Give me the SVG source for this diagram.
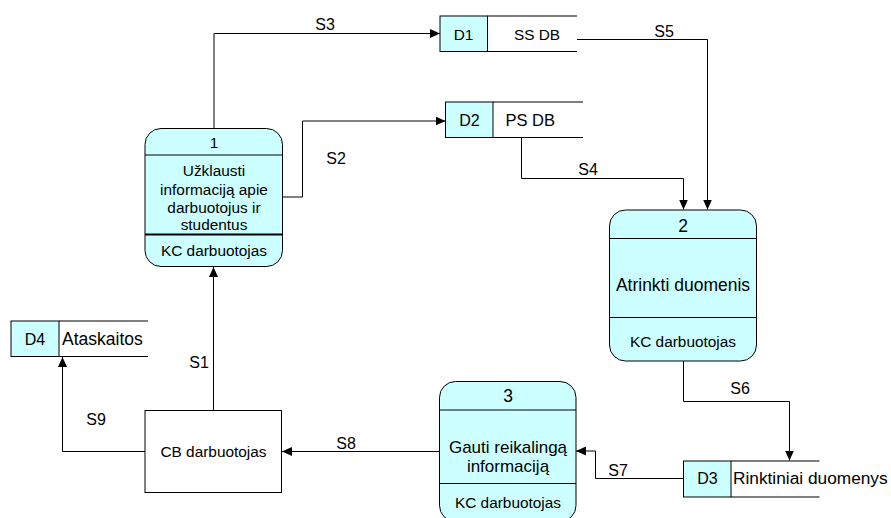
<svg xmlns="http://www.w3.org/2000/svg" width="891" height="518" viewBox="0 0 891 518">
  <style>
    text { font-family: "Liberation Sans", Arial, sans-serif; fill: #000; }
    .proc { fill: #ccffff; stroke: #000; stroke-width: 1; }
    .div { stroke: #000; stroke-width: 1; }
    .thick { stroke: #000; stroke-width: 2; }
    .key { fill: #ccffff; stroke: #000; stroke-width: 1; }
    .store { stroke: #000; stroke-width: 1.2; fill: none; }
    .flow { fill: none; stroke: #000; stroke-width: 1; marker-end: url(#arrow); }
    .lbl { font-size: 16px; text-anchor: middle; }
    .c { text-anchor: middle; }
    .t15 { font-size: 15.4px; }
    .t17 { font-size: 17.5px; }
  </style>
  <defs>
    <marker id="arrow" viewBox="0 0 10 10" refX="10" refY="5" markerWidth="10" markerHeight="10" markerUnits="userSpaceOnUse" orient="auto">
      <path d="M0,0.5 L10,5 L0,9.5 z" fill="#000"/>
    </marker>
  </defs>

  <rect width="891" height="518" fill="#fff"/>

  <!-- data flows -->
  <g id="flows">
    <path class="flow" d="M214,128 V33.5 H440"/>
    <path class="flow" d="M283,197 H302.5 V121 H445.5"/>
    <path class="flow" d="M521.5,138 V178.5 H683.5 V209.5"/>
    <path class="flow" d="M577,39.5 H707.5 V209.5"/>
    <path class="flow" d="M683.5,361 V401.5 H789.5 V460.5"/>
    <path class="flow" d="M683.5,478.5 H595.5 V451 H576"/>
    <path class="flow" d="M439,451.5 H282"/>
    <path class="flow" d="M213.5,410.5 V267"/>
    <path class="flow" d="M145,451.5 H62.5 V357"/>
    <text class="lbl" x="325" y="30">S3</text>
    <text class="lbl" x="336" y="164">S2</text>
    <text class="lbl" x="588" y="175">S4</text>
    <text class="lbl" x="664" y="37">S5</text>
    <text class="lbl" x="740" y="394">S6</text>
    <text class="lbl" x="618" y="476">S7</text>
    <text class="lbl" x="346" y="449">S8</text>
    <text class="lbl" x="199" y="368">S1</text>
    <text class="lbl" x="96" y="425">S9</text>
  </g>

  <!-- process 1 -->
  <g id="process1">
    <rect class="proc" x="145" y="128.5" width="137.5" height="138" rx="16" ry="16"/>
    <line class="div" x1="145" y1="155" x2="282.5" y2="155"/>
    <line class="thick" x1="145" y1="234.5" x2="282.5" y2="234.5"/>
    <text class="c t15" x="214" y="148">1</text>
    <text class="c t15" x="214" y="176">Užklausti</text>
    <text class="c t15" x="214" y="195">informaciją apie</text>
    <text class="c t15" x="214" y="213">darbuotojus ir</text>
    <text class="c t15" x="214" y="230">studentus</text>
    <text class="c t15" x="214" y="256">KC darbuotojas</text>
  </g>

  <!-- process 2 -->
  <g id="process2">
    <rect class="proc" x="609.5" y="210" width="147" height="151" rx="16" ry="16"/>
    <line class="div" x1="609.5" y1="238.5" x2="756.5" y2="238.5"/>
    <line class="div" x1="609.5" y1="317.5" x2="756.5" y2="317.5"/>
    <text class="c t17" x="683" y="232">2</text>
    <text class="c t17" x="683" y="291">Atrinkti duomenis</text>
    <text class="c t15" x="683" y="347">KC darbuotojas</text>
  </g>

  <!-- process 3 -->
  <g id="process3">
    <rect class="proc" x="439.5" y="381.5" width="136.5" height="140" rx="16" ry="16"/>
    <line class="div" x1="439.5" y1="410" x2="576" y2="410"/>
    <line class="div" x1="439.5" y1="483.5" x2="576" y2="483.5"/>
    <text class="c t17" x="508" y="402">3</text>
    <text class="c" x="508" y="453" style="font-size:17px">Gauti reikalingą</text>
    <text class="c" x="508" y="472" style="font-size:17px">informaciją</text>
    <text class="c t15" x="508" y="508">KC darbuotojas</text>
  </g>

  <!-- external entity -->
  <g id="entityCB">
    <rect x="145" y="410.5" width="136.5" height="82" fill="#fff" stroke="#000" stroke-width="1"/>
    <text class="c t15" x="213.5" y="456.5">CB darbuotojas</text>
  </g>

  <!-- data store D1 -->
  <g id="storeD1">
    <rect class="key" x="440" y="16" width="47.5" height="35.5"/>
    <line class="store" x1="487.5" y1="16" x2="577" y2="16"/>
    <line class="store" x1="487.5" y1="51.5" x2="577" y2="51.5"/>
    <text class="c t15" x="463.5" y="40">D1</text>
    <text class="c t15" x="537" y="40">SS DB</text>
  </g>

  <!-- data store D2 -->
  <g id="storeD2">
    <rect class="key" x="445.5" y="102" width="47.5" height="35.5"/>
    <line class="store" x1="493" y1="102" x2="583" y2="102"/>
    <line class="store" x1="493" y1="137.5" x2="583" y2="137.5"/>
    <text class="c" x="469.5" y="126" style="font-size:16px">D2</text>
    <text x="505.5" y="126" style="font-size:16.5px">PS DB</text>
  </g>

  <!-- data store D3 -->
  <g id="storeD3">
    <rect class="key" x="683.5" y="461" width="47.5" height="36"/>
    <line class="store" x1="731" y1="461" x2="819.5" y2="461"/>
    <line class="store" x1="731" y1="497" x2="819.5" y2="497"/>
    <text class="c" x="707.5" y="484" style="font-size:16px">D3</text>
    <text x="733" y="484" style="font-size:17.3px">Rinktiniai duomenys</text>
  </g>

  <!-- data store D4 -->
  <g id="storeD4">
    <rect class="key" x="11" y="321" width="48" height="35.5"/>
    <line class="store" x1="59" y1="321" x2="148" y2="321"/>
    <line class="store" x1="59" y1="356.5" x2="148" y2="356.5"/>
    <text class="c" x="35" y="345" style="font-size:16px">D4</text>
    <text x="62" y="345" style="font-size:17.5px">Ataskaitos</text>
  </g>
</svg>
